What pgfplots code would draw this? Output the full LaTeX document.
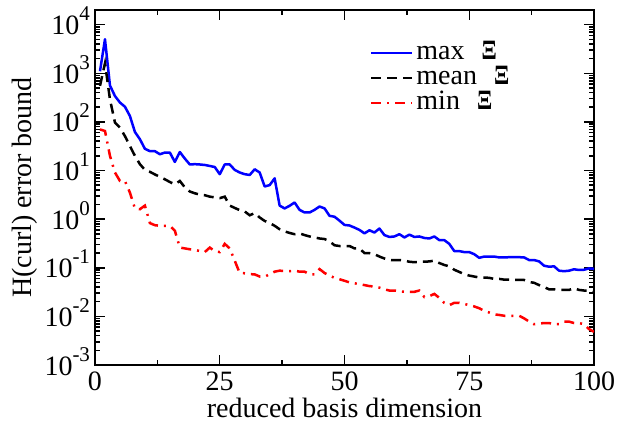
\documentclass[border=0pt]{standalone}
\usepackage{pgfplots}
\pgfplotsset{compat=1.18}
\usepackage{fontspec}
\setmainfont{Liberation Serif}
\newcommand{\sps}[1]{\raisebox{0.5em}{\fontsize{21}{21}\selectfont #1}}
\newcommand{\BXi}{\scalebox{0.8}[1]{\textbf{Ξ}}}
\begin{document}
\begin{tikzpicture}
\useasboundingbox (-95pt,-58pt) rectangle (524pt,365pt);
\begin{axis}[
  at={(0pt,0pt)}, anchor=south west,
  scale only axis, width=499pt, height=355pt,
  font=\fontsize{28}{30}\selectfont,
  line width=2pt,
  xmin=0, xmax=100, ymin=1e-3, ymax=2e4, ymode=log,
  xtick={0,25,50,75,100}, xticklabels={0,25,50,75,100},
  minor x tick num=1,
  ytick={1e-3,1e-2,1e-1,1,10,100,1000,10000},
  yticklabels={10\sps{-3},10\sps{-2},10\sps{-1},10\sps{0},10\sps{1},10\sps{2},10\sps{3},10\sps{4}},
  major tick length=10pt, minor tick length=5pt,
  tick style={line width=1.5pt, black},
  xticklabel style={anchor=base, yshift=-25pt, inner sep=0pt},
  yticklabel style={anchor=base east, yshift=-10pt, xshift=-4pt, inner sep=0pt},
  xlabel={reduced basis dimension},
  xlabel style={at={(axis description cs:0.5,-0.1465)}, anchor=base},
  ylabel={H(curl) error bound},
  ylabel style={at={(axis description cs:-0.14,0.5)}, anchor=center},
  legend style={at={(rel axis cs:0.549,0.9127)}, anchor=north west, draw=none, fill=none,
    inner sep=0pt, row sep=0pt,
    nodes={inner sep=3pt, text height=15pt, text depth=4pt},
    /tikz/every even column/.append style={column sep=10pt}},
  legend cell align=left,
  legend image code/.code={\draw[#1] (0pt,1.5pt) -- (41pt,1.5pt);},
]
\addplot[blue, line width=2.5pt, line join=round] table {
1 1100
2 5000
3 560
4 340
5 250
6 205
7 132
8 62
9 44
10 28
11 25
12 25
13 21.6
14 23.4
15 23.4
16 15
17 24
18 17.6
19 13.3
20 13.5
21 13.3
22 13
23 12.4
24 11.8
25 8.4
26 13.3
27 13.3
28 10.3
29 9.1
30 8.4
31 8.1
32 10.6
33 9.1
34 4.7
35 5.0
36 6.9
37 1.9
38 1.66
39 1.88
40 2.2
41 1.55
42 1.37
43 1.37
44 1.55
45 1.82
46 1.66
47 1.17
48 1.12
49 0.93
50 0.76
51 0.74
52 0.67
53 0.60
54 0.51
55 0.59
56 0.53
57 0.64
58 0.47
59 0.43
60 0.44
61 0.49
62 0.42
63 0.48
64 0.43
65 0.44
66 0.41
67 0.40
68 0.44
69 0.37
70 0.37
71 0.31
72 0.22
73 0.22
74 0.21
75 0.21
76 0.19
77 0.16
78 0.17
79 0.17
80 0.17
81 0.163
82 0.163
83 0.165
84 0.165
85 0.165
86 0.163
87 0.144
88 0.144
89 0.135
90 0.11
91 0.105
92 0.107
93 0.087
94 0.085
95 0.087
96 0.093
97 0.09
98 0.091
99 0.097
100 0.095
};
\addlegendentry{max\hspace{17pt}\BXi}
\addplot[black, line width=2.5pt, dash pattern=on 10pt off 6pt] table {
1 550
2 1600
3 290
4 97
5 76
6 51
7 32
8 20
9 13.5
10 10.3
11 9.4
12 8.3
13 7.4
14 6.6
15 5.8
16 5.2
17 6.1
18 4.5
19 3.7
20 3.4
21 3.2
22 3.1
23 2.9
24 2.8
25 2.7
26 2.9
27 1.9
28 1.7
29 1.53
30 1.44
31 1.2
32 1.33
33 1.08
34 0.92
35 0.83
36 0.73
37 0.62
38 0.56
39 0.52
40 0.49
41 0.51
42 0.47
43 0.44
44 0.42
45 0.40
46 0.39
47 0.35
48 0.29
49 0.28
50 0.28
51 0.28
52 0.25
53 0.25
54 0.20
55 0.20
56 0.19
57 0.17
58 0.155
59 0.144
60 0.143
61 0.144
62 0.14
63 0.133
64 0.13
65 0.133
66 0.133
67 0.135
68 0.14
69 0.125
70 0.114
71 0.107
72 0.091
73 0.082
74 0.074
75 0.069
76 0.066
77 0.063
78 0.063
79 0.062
80 0.059
81 0.059
82 0.057
83 0.057
84 0.056
85 0.056
86 0.056
87 0.051
88 0.049
89 0.044
90 0.040
91 0.036
92 0.036
93 0.035
94 0.035
95 0.035
96 0.038
97 0.035
98 0.034
99 0.034
100 0.031
};
\addlegendentry{mean\hspace{17pt}\BXi}
\addplot[red, line width=2.5pt, dash pattern=on 10pt off 6pt on 2pt off 6pt] table {
1 70
2 65
3 20
4 9.1
5 6.1
6 6.1
7 3.5
8 1.66
9 1.6
10 1.9
11 0.83
12 0.75
13 0.73
14 0.73
15 0.73
16 0.58
17 0.26
18 0.25
19 0.24
20 0.235
21 0.22
22 0.21
23 0.26
24 0.22
25 0.21
26 0.31
27 0.25
28 0.14
29 0.078
30 0.077
31 0.074
32 0.073
33 0.066
34 0.065
35 0.074
36 0.083
37 0.087
38 0.086
39 0.085
40 0.087
41 0.083
42 0.083
43 0.074
44 0.073
45 0.094
46 0.078
47 0.069
48 0.062
49 0.058
50 0.054
51 0.050
52 0.048
53 0.046
54 0.044
55 0.042
56 0.041
57 0.039
58 0.036
59 0.034
60 0.034
61 0.033
62 0.032
63 0.032
64 0.032
65 0.034
66 0.025
67 0.026
68 0.029
69 0.024
70 0.019
71 0.017
72 0.019
73 0.019
74 0.018
75 0.017
76 0.016
77 0.0147
78 0.013
79 0.012
80 0.011
81 0.0107
82 0.0103
83 0.0103
84 0.0103
85 0.0103
86 0.0091
87 0.0078
88 0.0069
89 0.0071
90 0.0073
91 0.0073
92 0.0069
93 0.0069
94 0.0078
95 0.0078
96 0.0073
97 0.0073
98 0.0069
99 0.0055
100 0.0048
};
\addlegendentry{min\hspace{17pt}\BXi}
\end{axis}
\end{tikzpicture}
\end{document}
